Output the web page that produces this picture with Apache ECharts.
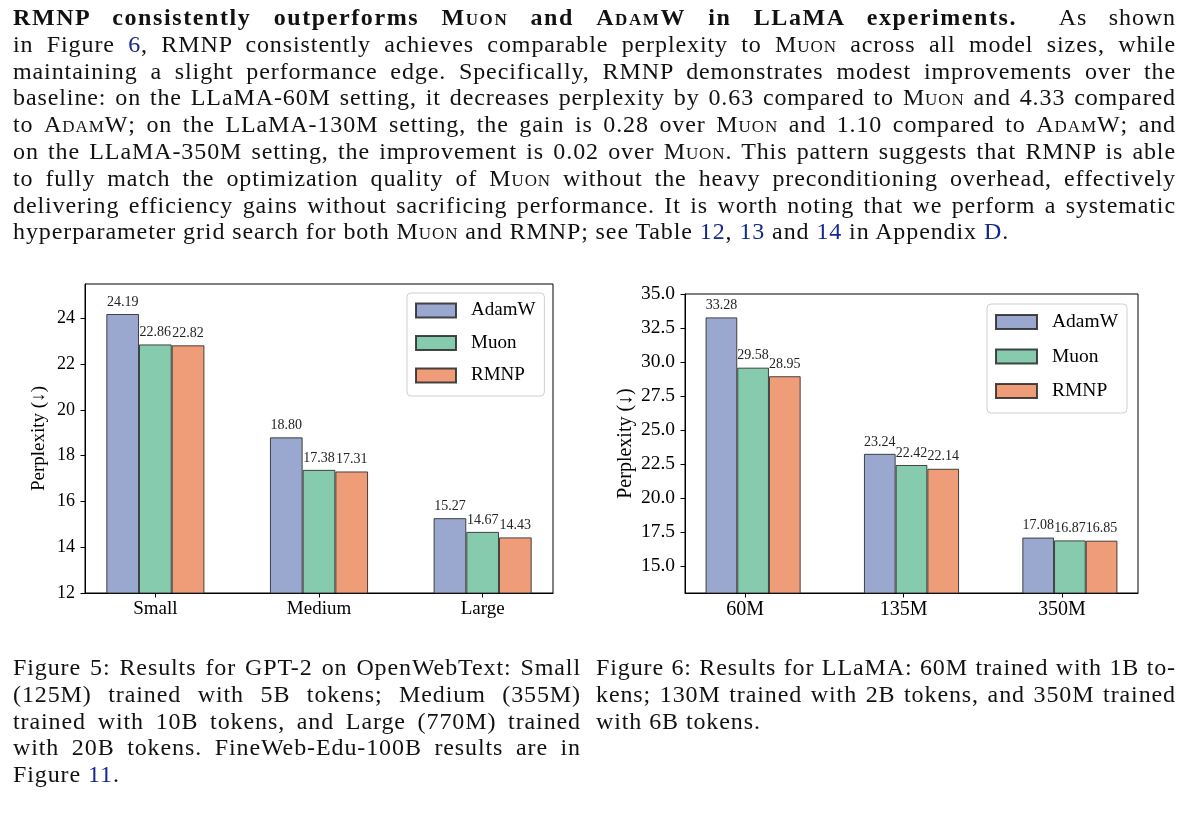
<!DOCTYPE html>
<html>
<head>
<meta charset="utf-8">
<script src="https://cdn.jsdelivr.net/npm/echarts@6/dist/echarts.min.js"></script>
<style>
  body { margin: 0; background: #fff; }
  #page { position: relative; width: 1200px; height: 819px; overflow: hidden; font-family: "Liberation Serif", "Times New Roman", serif; color: #111; }
  #chart { position: absolute; left: 0; top: 0; width: 1200px; height: 819px; }
  .txt { position: absolute; font-size: 24px; line-height: 26.8px; letter-spacing: 0.9px; }
  .ln { text-align: justify; text-align-last: justify; white-space: nowrap; }
  .end { text-align: left; white-space: nowrap; }
  .sc { font-variant: small-caps; }
  .ref { color: #16288a; }
  b { letter-spacing: 1.6px; }
</style>
</head>
<body>
<div id="page">
  <div id="chart"></div>
  <div class="txt" style="left:13px; top:4px; width:1163px;">
    <div class="ln"><b>RMNP consistently outperforms <span class="sc">Muon</span> and <span class="sc">AdamW</span> in LLaMA experiments.</b>&nbsp; As shown</div>
    <div class="ln">in Figure <span class="ref">6</span>, RMNP consistently achieves comparable perplexity to <span class="sc">Muon</span> across all model sizes, while</div>
    <div class="ln">maintaining a slight performance edge. Specifically, RMNP demonstrates modest improvements over the</div>
    <div class="ln">baseline: on the LLaMA-60M setting, it decreases perplexity by 0.63 compared to <span class="sc">Muon</span> and 4.33 compared</div>
    <div class="ln">to <span class="sc">AdamW</span>; on the LLaMA-130M setting, the gain is 0.28 over <span class="sc">Muon</span> and 1.10 compared to <span class="sc">AdamW</span>; and</div>
    <div class="ln">on the LLaMA-350M setting, the improvement is 0.02 over <span class="sc">Muon</span>. This pattern suggests that RMNP is able</div>
    <div class="ln">to fully match the optimization quality of <span class="sc">Muon</span> without the heavy preconditioning overhead, effectively</div>
    <div class="ln">delivering efficiency gains without sacrificing performance. It is worth noting that we perform a systematic</div>
    <div class="end">hyperparameter grid search for both <span class="sc">Muon</span> and RMNP; see Table <span class="ref">12</span>, <span class="ref">13</span> and <span class="ref">14</span> in Appendix <span class="ref">D</span>.</div>
  </div>
  <div class="txt" style="left:13px; top:654px; width:568px;">
    <div class="ln">Figure 5: Results for GPT-2 on OpenWebText: Small</div>
    <div class="ln">(125M) trained with 5B tokens; Medium (355M)</div>
    <div class="ln">trained with 10B tokens, and Large (770M) trained</div>
    <div class="ln">with 20B tokens. FineWeb-Edu-100B results are in</div>
    <div class="end">Figure <span class="ref">11</span>.</div>
  </div>
  <div class="txt" style="left:596px; top:654px; width:580px;">
    <div class="ln">Figure 6: Results for LLaMA: 60M trained with 1B to-</div>
    <div class="ln">kens; 130M trained with 2B tokens, and 350M trained</div>
    <div class="end">with 6B tokens.</div>
  </div>
</div>
<script>
// GPT-2 (Figure 5)
const gptCats = ['Small', 'Medium', 'Large'];
const gptAdamW = [24.19, 18.80, 15.27];
const gptMuon = [22.86, 17.38, 14.67];
const gptRMNP = [22.82, 17.31, 14.43];
const gptTicks = [12, 14, 16, 18, 20, 22, 24];

// LLaMA (Figure 6)
const llamaCats = ['60M', '135M', '350M'];
const llamaAdamW = [33.28, 23.24, 17.08];
const llamaMuon = [29.58, 22.42, 16.87];
const llamaRMNP = [28.95, 22.14, 16.85];
const llamaTicks = [15, 17.5, 20, 22.5, 25, 27.5, 30, 32.5, 35];

const optNames = ['AdamW', 'Muon', 'RMNP'];
const optColors = ['#9aa8d0', '#86cbad', '#ee9d78'];

const FONT = '"Liberation Serif", "Times New Roman", serif';

function barSeries(name, color, values, idx, shift, barW, labelSize) {
  return {
    name: name,
    type: 'bar',
    xAxisIndex: idx,
    yAxisIndex: idx,
    barWidth: barW,
    barGap: '0%',
    data: values.map((v, i) => [i + shift, v]),
    itemStyle: { color: color, borderColor: 'rgba(40,40,40,0.85)', borderWidth: 1 },
    label: {
      show: true,
      position: 'top',
      distance: 5,
      fontFamily: FONT,
      fontSize: labelSize,
      color: '#222',
      formatter: p => p.value[1].toFixed(2)
    }
  };
}

function xAxisFor(idx, cats, min, max, size) {
  const pos = cats.map((c, i) => i);
  return {
    type: 'value', gridIndex: idx, min: min, max: max,
    splitLine: { show: false },
    axisLine: { onZero: false, lineStyle: { color: '#000', width: 1 } },
    axisTick: { customValues: pos, length: 4.5, lineStyle: { color: '#000' } },
    axisLabel: { customValues: pos, formatter: v => cats[Math.round(v)], fontFamily: FONT, fontSize: size, color: '#000', margin: 7 }
  };
}

function yAxisFor(idx, ticks, min, max, size, digits, nameGap, nameSize) {
  return {
    type: 'value', gridIndex: idx, min: min, max: max,
    name: 'Perplexity (↓)', nameLocation: 'middle', nameGap: nameGap,
    nameTextStyle: { fontFamily: FONT, fontSize: nameSize, color: '#000' },
    splitLine: { show: false },
    axisLine: { show: true, onZero: false, lineStyle: { color: '#000', width: 1 } },
    axisTick: { show: true, customValues: ticks, length: 4.5, lineStyle: { color: '#000' } },
    axisLabel: { customValues: ticks, formatter: v => v.toFixed(digits), fontFamily: FONT, fontSize: size, color: '#000', margin: 10 }
  };
}

function legendFor(left, top, iw, ih, gap, size, pad) {
  return {
    orient: 'vertical', left: left, top: top,
    data: optNames, icon: 'rect',
    itemWidth: iw, itemHeight: ih, itemGap: gap,
    padding: pad,
    backgroundColor: '#fff', borderColor: '#cfcfcf', borderWidth: 1, borderRadius: 4,
    textStyle: { fontFamily: FONT, fontSize: size, color: '#000', lineHeight: ih, padding: [0, 0, 0, 10] }
  };
}

const chart = echarts.init(document.getElementById('chart'));
const option = {
  animation: false,
  grid: [
    { left: 85, top: 284, width: 468, height: 309, show: true, borderColor: '#000', borderWidth: 1, backgroundColor: 'transparent' },
    { left: 685, top: 294, width: 453, height: 299, show: true, borderColor: '#000', borderWidth: 1, backgroundColor: 'transparent' }
  ],
  xAxis: [
    xAxisFor(0, gptCats, -0.43, 2.43, 19),
    xAxisFor(1, llamaCats, -0.38, 2.48, 20)
  ],
  yAxis: [
    yAxisFor(0, gptTicks, 12, 25.5, 18, 0, 36, 19),
    yAxisFor(1, llamaTicks, 13, 35, 19.5, 1, 49, 20)
  ],
  legend: [
    legendFor(407, 293, 40, 14, 13.5, 19, [8, 9, 11, 8]),
    legendFor(987, 304, 41, 14, 14.5, 19.5, [8, 9, 12, 8])
  ],
  series: [
    barSeries(optNames[0], optColors[0], gptAdamW, 0, 0, 32.7, 14),
    barSeries(optNames[1], optColors[1], gptMuon, 0, 0, 32.7, 14),
    barSeries(optNames[2], optColors[2], gptRMNP, 0, 0, 32.7, 14),
    barSeries(optNames[0], optColors[0], llamaAdamW, 1, 0.05, 31.7, 14),
    barSeries(optNames[1], optColors[1], llamaMuon, 1, 0.05, 31.7, 14),
    barSeries(optNames[2], optColors[2], llamaRMNP, 1, 0.05, 31.7, 14)
  ]
};
chart.setOption(option);
</script>
</body>
</html>
